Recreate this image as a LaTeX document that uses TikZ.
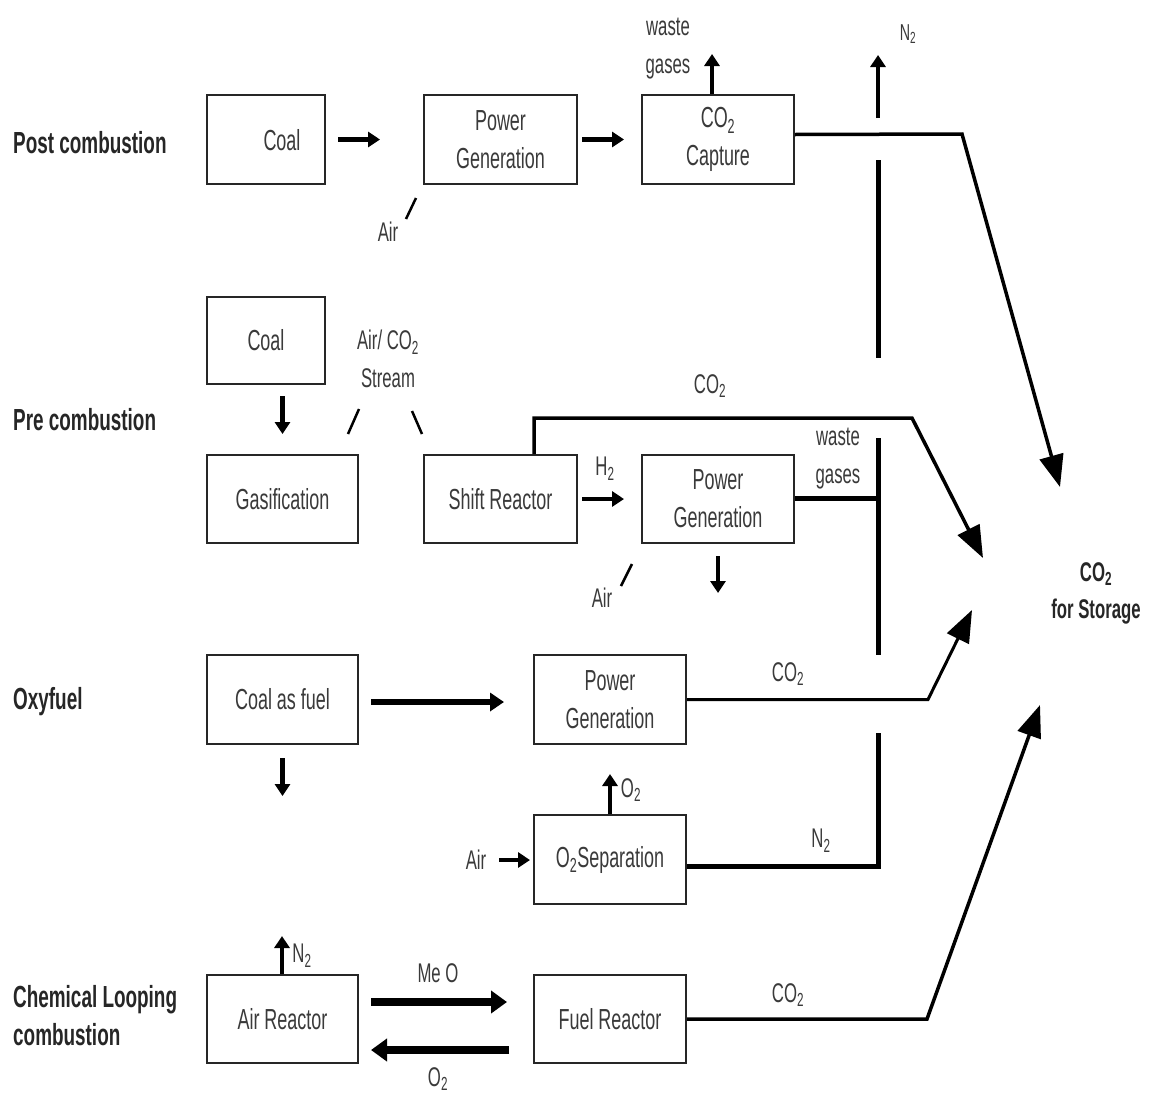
\documentclass[tikz,border=0pt]{standalone}
\usepackage{fontspec}
\setmainfont{Liberation Sans}[FakeStretch=0.62]
\usetikzlibrary{arrows.meta,calc}
\definecolor{txt}{HTML}{3A3A3A}
\begin{document}
\begin{tikzpicture}[x=1pt,y=-1pt,
  box/.style={draw=black!85, line width=2pt, inner sep=0pt, align=center, font=\fontsize{29}{38}\selectfont, text=txt},
  lbl/.style={font=\fontsize{27}{38}\selectfont, text=txt, inner sep=0pt, align=center},
  slbl/.style={font=\fontsize{23}{30}\selectfont, text=txt, inner sep=0pt, align=center},
  sect/.style={font=\bfseries\fontsize{30.5}{38}\selectfont, text=black!85, anchor=west, inner sep=0pt, align=left},
  sarrow/.style={line width=4.5pt, -{Triangle[length=12pt,width=15pt]}},
  barrow/.style={line width=8pt, -{Triangle[length=16pt,width=22pt]}},
  flow/.style={line width=3.5pt, line join=miter},
  bigtip/.style={-{Triangle[length=32pt,width=24pt]}},
  slash/.style={line width=2.5pt}]
\fill[white] (0,0) rectangle (1156,1095);
\useasboundingbox (0,0) rectangle (1156,1095);

% section labels
\node[sect] (lpost) at (13,143) {Post combustion};
\node[sect] (lpre) at (13,420) {Pre combustion};
\node[sect] (loxy) at (13,702) {Oxyfuel};
\node[sect] (lchem) at (13,1016) {Chemical Looping\\combustion};

% boxes
\node[box, minimum width=118pt, minimum height=89pt] (coal1) at (266,139.5) {};
\node[lbl, font=\fontsize{29}{38}\selectfont] (coal1t) at (282,140) {Coal};
\node[box, minimum width=153pt, minimum height=89pt] (pg1) at (500.5,139.5) {Power\\Generation};
\node[box, minimum width=152pt, minimum height=89pt] (cap) at (718,139.5) {CO\textsubscript{2}\\Capture};

\node[box, minimum width=118pt, minimum height=87pt] (coal2) at (266,340.5) {Coal};
\node[box, minimum width=151pt, minimum height=88pt] (gas) at (282.5,499) {Gasification};
\node[box, minimum width=153pt, minimum height=88pt] (shift) at (500.5,499) {Shift Reactor};
\node[box, minimum width=152pt, minimum height=88pt] (pg2) at (718,499) {Power\\Generation};

\node[box, minimum width=151pt, minimum height=89pt] (coalfuel) at (282.5,699.5) {Coal as fuel};
\node[box, minimum width=152pt, minimum height=89pt] (pg3) at (610,699.5) {Power\\Generation};
\node[box, minimum width=152pt, minimum height=89pt] (o2sep) at (610,859.5) {O\textsubscript{2}Separation};

\node[box, minimum width=151pt, minimum height=88pt] (airr) at (282.5,1019) {Air Reactor};
\node[box, minimum width=152pt, minimum height=88pt] (fuelr) at (610,1019) {Fuel Reactor};

% storage label
\node[font=\bfseries\fontsize{27}{37}\selectfont, text=black!85, inner sep=0pt, align=center] (store) at (1096,593) {CO\textsubscript{2}\\for Storage};

% ---- post combustion
\draw[sarrow] ($(coal1.east)+(12,0)$) -- ($(pg1.west)+(-43,0)$);
\draw[sarrow] ($(pg1.east)+(4,0)$) -- ($(cap.west)+(-17,0)$);
\draw[sarrow] ($(cap.north)+(-6,0)$) -- ++(0,-40);
\node[lbl] (waste1) at (668,49) {waste\\gases};
\node[lbl] (air1) at (388,232) {Air};
\draw[slash] ($(pg1.south west)+(-17,34)$) -- ($(pg1.south west)+(-7,13)$);
\coordinate (k1) at (962,134);
\coordinate (t1) at (1060,487);
\draw[flow, bigtip] ($(cap.east)+(0,-5)$) -- (k1) -- (t1);

% N2 collector line
\coordinate (n2a) at (878,118);
\coordinate (n2b) at (878,55);
\draw[sarrow] (n2a) -- (n2b);
\node[slbl] (n2lbl) at (908,34) {N\textsubscript{2}};
\coordinate (v1a) at (878,160);
\coordinate (v1b) at (878,358);
\draw[line width=5pt] (v1a) -- (v1b);
\coordinate (v2a) at (878,438);
\coordinate (v2b) at (878,655);
\draw[line width=5pt] (v2a) -- (v2b);
\coordinate (v3a) at (878,733);
\coordinate (v3b) at (878,866);
\draw[line width=5pt, line join=miter] (v3a) -- (v3b) -- (o2sep.east |- v3b);
\coordinate (wg) at (878,498);
\draw[line width=5pt] (pg2.east |- wg) -- (wg);

% ---- pre combustion
\draw[sarrow] ($(gas.north)+(0,-58)$) -- ($(gas.north)+(0,-20)$);
\node[lbl] (airco2) at (388,359) {Air/ CO\textsubscript{2}\\Stream};
\draw[slash] ($(gas.north east)+(0,-45)$) -- ($(gas.north east)+(-11,-20)$);
\draw[slash] ($(shift.north west)+(-11,-43)$) -- ($(shift.north west)+(-1,-20)$);
\coordinate (k2a) at (534,418);
\coordinate (k2b) at (912,418);
\coordinate (t2) at (983,558);
\draw[flow, bigtip] (shift.north -| k2a) -- (k2a) -- (k2b) -- (t2);
\node[lbl] (co2b) at (710,386) {CO\textsubscript{2}};
\draw[sarrow] ($(shift.east)+(4,0)$) -- ($(pg2.west)+(-17,0)$);
\node[lbl] (h2) at (605,469) {H\textsubscript{2}};
\node[lbl] (waste2) at (838,459) {waste\\gases};
\node[lbl] (air2) at (602,598) {Air};
\draw[slash] ($(pg2.south west)+(-20,42)$) -- ($(pg2.south west)+(-9,20)$);
\draw[sarrow] ($(pg2.south)+(0,12)$) -- ++(0,37);

% ---- oxyfuel
\draw[line width=6pt, -{Triangle[length=14pt,width=18pt]}] ($(coalfuel.east)+(12,2.5)$) -- ($(pg3.west)+(-29,2.5)$);
\draw[sarrow] ($(coalfuel.south)+(0,13)$) -- ++(0,38);
\coordinate (k3) at (928,699.5);
\coordinate (t3) at (972,610);
\draw[line width=3pt, line join=miter, bigtip] (pg3.east) -- (k3) -- (t3);
\node[lbl] (co2c) at (788,674) {CO\textsubscript{2}};
\draw[sarrow] (o2sep.north -| 610,0) -- ++(0,-40);
\node[lbl] (o2lbl) at (631,790) {O\textsubscript{2}};
\node[lbl] (air3) at (476,860) {Air};
\draw[sarrow] ($(o2sep.west)+(-34,0.5)$) -- ($(o2sep.west)+(-3,0.5)$);
\node[lbl] (n2c) at (821,841) {N\textsubscript{2}};

% ---- chemical looping
\draw[sarrow] ($(airr.north)+(-0.5,0)$) -- ++(0,-38);
\node[lbl] (n2d) at (302,956) {N\textsubscript{2}};
\draw[barrow] ($(airr.east)+(12,-17)$) -- ($(fuelr.west)+(-26,-17)$);
\node[lbl] (meo) at (438,973) {Me O};
\draw[barrow] ($(fuelr.west)+(-24,31)$) -- ($(airr.east)+(12,31)$);
\node[lbl] (olbl) at (438,1079) {O\textsubscript{2}};
\coordinate (k4) at (927,1019);
\coordinate (t4) at (1040,705);
\draw[flow, bigtip] (fuelr.east) -- (k4) -- (t4);
\node[lbl] (co2d) at (788,995) {CO\textsubscript{2}};
\end{tikzpicture}
\end{document}
